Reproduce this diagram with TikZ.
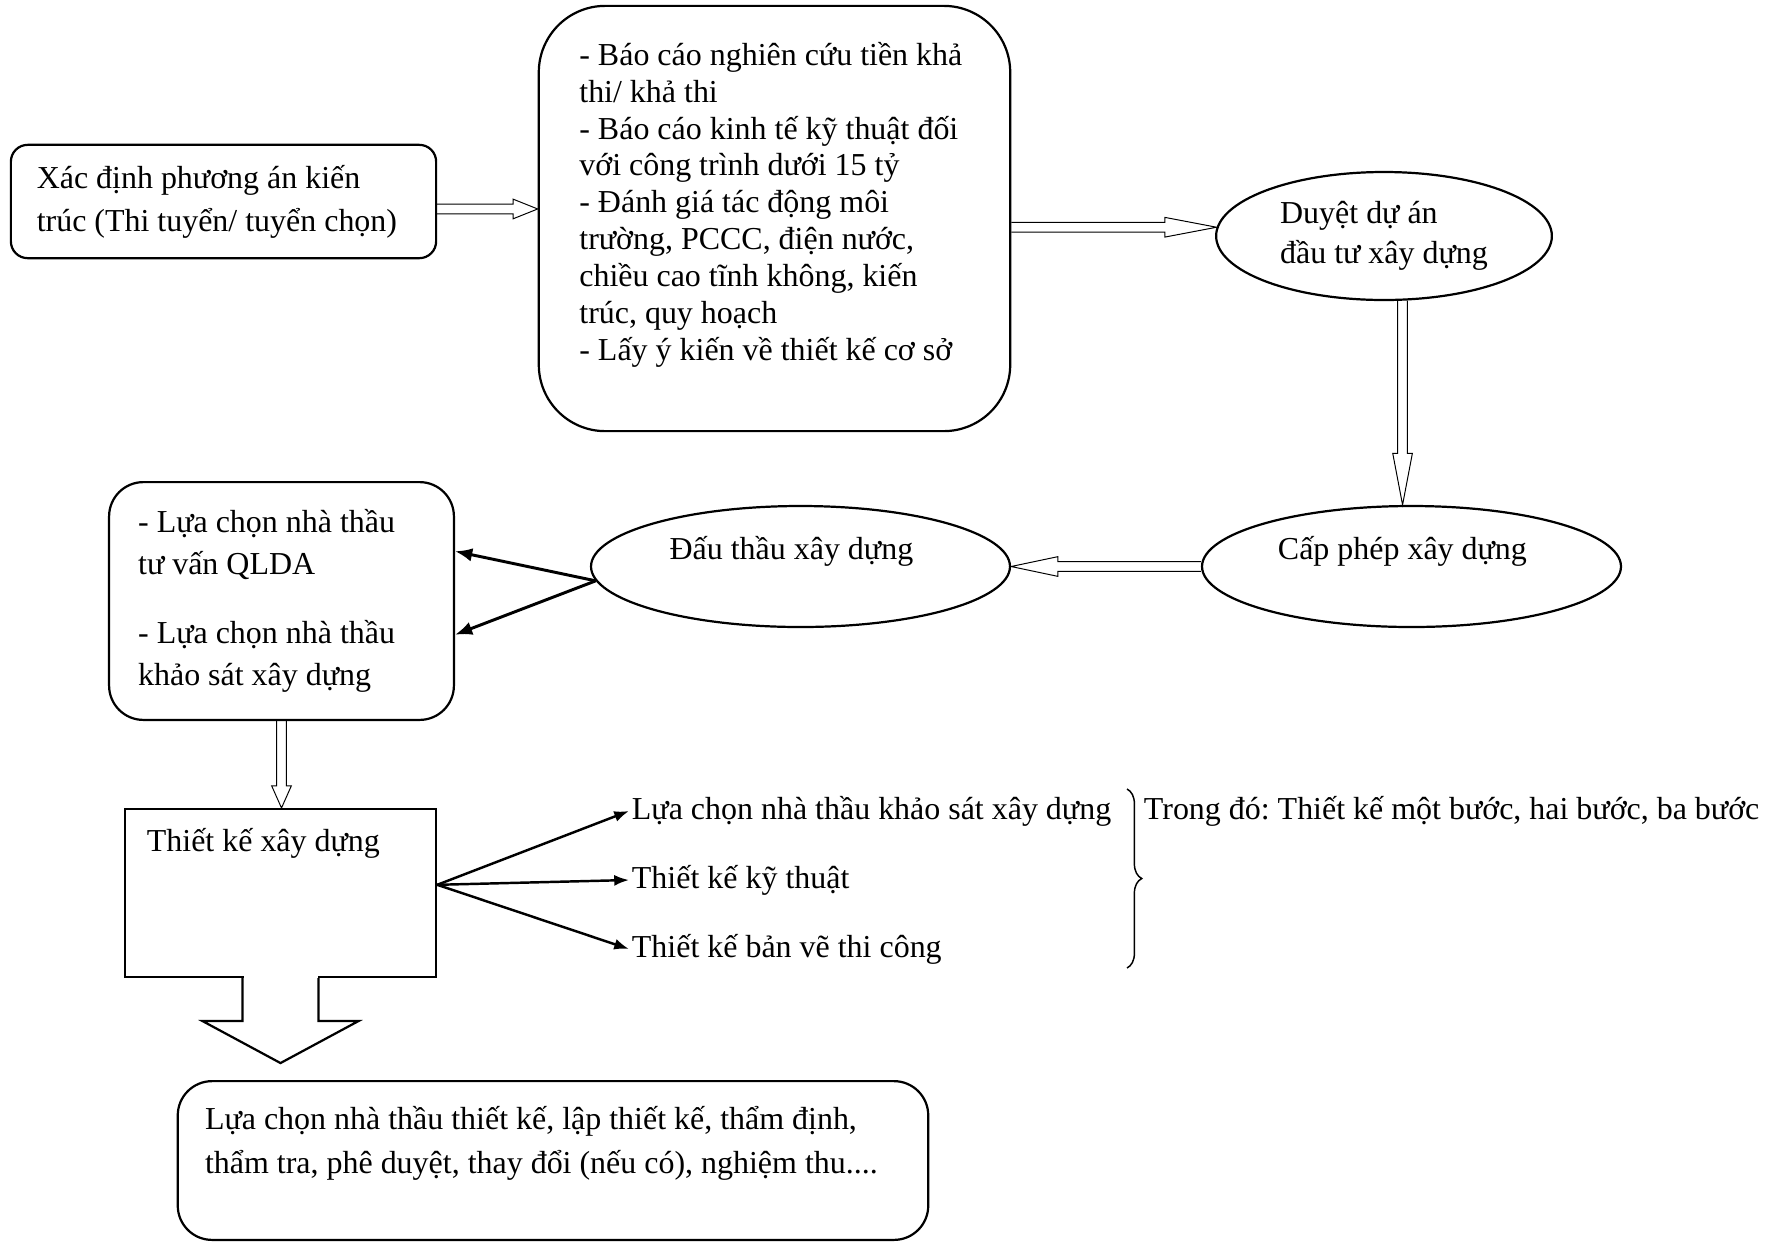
\documentclass[tikz,border=0pt]{standalone}
\usepackage{fontspec}
\setmainfont{Liberation Serif}
\usetikzlibrary{arrows.meta,shapes.geometric,calc,decorations.pathreplacing}

\begin{document}
\frenchspacing
\begin{tikzpicture}[x=0.0143cm, y=-0.0143cm, >=Latex,
  font=\fontsize{13pt}{15pt}\selectfont,
  box/.style={draw, line width=0.9pt, inner ysep=0pt, align=flush left},
  oval/.style={draw, ellipse, line width=0.9pt, inner sep=1pt, align=flush left},
  hollow/.style={line width=0.8pt, to path={
      ($(\tikztostart)!2pt!90:(\tikztotarget)$)
      -- ($($(\tikztotarget)!#1!(\tikztostart)$)!2pt!90:(\tikztotarget)$)
      -- ($($(\tikztotarget)!#1!(\tikztostart)$)!4pt!90:(\tikztotarget)$)
      -- (\tikztotarget)
      -- ($($(\tikztotarget)!#1!(\tikztostart)$)!4pt!-90:(\tikztotarget)$)
      -- ($($(\tikztotarget)!#1!(\tikztostart)$)!2pt!-90:(\tikztotarget)$)
      -- ($(\tikztostart)!2pt!-90:(\tikztotarget)$)}},
  pointer/.style={-{Latex[length=7pt,width=5.5pt]}, line width=1.2pt},
  thinpointer/.style={-{Latex[length=6pt,width=4.5pt]}, line width=1pt},
  tag/.style={anchor=west, inner sep=1pt}]

  \useasboundingbox (0,0) rectangle (1779,1244);

  %% ── Top row: architecture, reports, approval ─────────────
  \node[box, rounded corners=0.24cm, minimum width=6.08cm, minimum height=1.62cm,
        text width=5.34cm, inner xsep=0.37cm,
        font=\fontsize{13pt}{17.5pt}\selectfont] (arch) at (223.5,201.5)
    {Xác định phương án kiến\\trúc (Thi tuyển/ tuyển chọn)};
  \node[box, rounded corners=0.95cm, minimum width=6.74cm, text width=5.58cm,
        inner xsep=0.58cm, text height=0.85cm, text depth=5.23cm]
    (report) at (774.5,218.5)
    {- Báo cáo nghiên cứu tiền khả\\thi/ khả thi\\
     - Báo cáo kinh tế kỹ thuật đối\\với công trình dưới 15 tỷ\\
     - Đánh giá tác động môi\\trường, PCCC, điện nước,\\
     chiều cao tĩnh không, kiến\\trúc, quy hoạch\\
     - Lấy ý kiến về thiết kế cơ sở};
  \node[oval, minimum width=4.8cm, minimum height=1.83cm,
        font=\fontsize{13pt}{16.3pt}\selectfont] (duyet) at (1384,236)
    {Duyệt dự án\\đầu tư xây dựng};

  %% ── Middle row: permit, bidding, contractors ─────────────
  \node[oval, minimum width=5.99cm, minimum height=1.73cm, text depth=0.52cm]
    (capphep) at (1411.5,566.5) {Cấp phép xây dựng\hspace{0.26cm}};
  \node[oval, minimum width=5.99cm, minimum height=1.73cm, text depth=0.52cm]
    (dau) at (800.5,566.5) {Đấu thầu xây dựng\hspace{0.26cm}};
  \node[box, rounded corners=0.49cm, minimum width=4.93cm, minimum height=3.40cm,
        text width=4.10cm, inner xsep=0.41cm,
        font=\fontsize{13pt}{17pt}\selectfont] (lcnt) at (281.5,601)
    {- Lựa chọn nhà thầu\\tư vấn QLDA\\[0.39cm]- Lựa chọn nhà thầu\\khảo sát xây dựng};

  %% ── Bottom: design and follow-up ─────────────────────────
  \node[box, minimum width=4.45cm, text width=3.82cm, inner xsep=0.31cm,
        text height=0.61cm, text depth=1.79cm] (tk) at (280.5,893)
    {Thiết kế xây dựng};
  \node[box, rounded corners=0.49cm, minimum width=10.73cm, text width=9.95cm,
        inner xsep=0.39cm, text height=0.69cm, text depth=1.58cm,
        font=\fontsize{13pt}{17.9pt}\selectfont] (nt) at (553,1160.5)
    {Lựa chọn nhà thầu thiết kế, lập thiết kế, thẩm định,\\
     thẩm tra, phê duyệt, thay đổi (nếu có), nghiệm thu....};

  \node[tag] (lb1) at (629,811) {Lựa chọn nhà thầu khảo sát xây dựng};
  \node[tag] (lb2) at (629,880) {Thiết kế kỹ thuật};
  \node[tag] (lb3) at (629,949) {Thiết kế bản vẽ thi công};
  \node[tag] (note) at (1141,811) {Trong đó: Thiết kế một bước, hai bước, ba bước};

  %% ── Hollow arrows ────────────────────────────────────────
  \draw (arch.-2.3) to[hollow=10pt] (arch.-2.3 -| report.west);
  \draw (report.east |- duyet.177) to[hollow=21pt] (duyet.177);
  \draw (duyet.-74) to[hollow=21pt] (duyet.-74 |- capphep.north);
  \draw (capphep.west) to[hollow=19pt] (dau.east);
  \draw (lcnt.south) to[hollow=9pt] (lcnt.south |- tk.north);

  %% ── Solid arrows ─────────────────────────────────────────
  \draw[pointer] (dau.184) -- (lcnt.16.5);
  \draw[pointer] (dau.184) -- (lcnt.-11);
  \foreach \lbl in {lb1,lb2,lb3}
    \draw[thinpointer] (tk.3) -- (\lbl.west);

  %% brace
  \draw[decorate, decoration={brace, amplitude=6pt}, line width=0.6pt]
    (1127,789) -- (1127,968);

  %% block arrow down to the last box
  \fill[white] ($(tk.south)+(-37,-3)$) rectangle ($(tk.south)+(37,3)$);
  \draw[line width=0.9pt] ($(tk.south)+(-38,0)$) -- ++(0,43) -- ++(-40,0)
    -- ++(78,42) -- ++(78,-42) -- ++(-40,0) -- ++(0,-43);
\end{tikzpicture}
\end{document}
